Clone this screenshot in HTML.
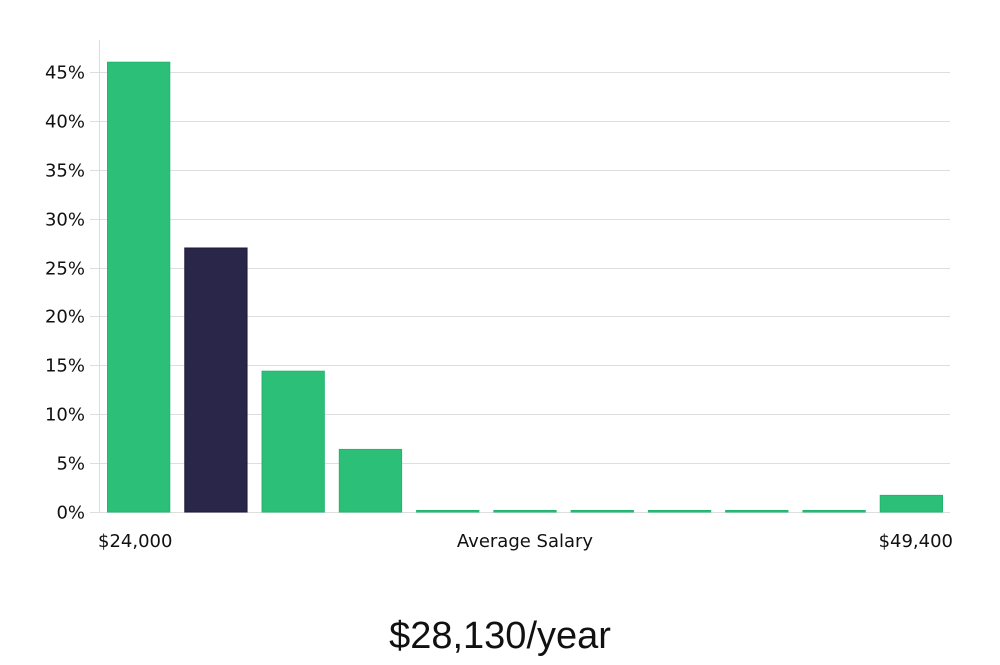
<!DOCTYPE html>
<html><head><meta charset="utf-8"><style>
body{margin:0;background:#fff;}
svg text{font-family:"DejaVu Sans","Liberation Sans",sans-serif;}
</style></head><body>
<svg width="1000" height="660" xmlns="http://www.w3.org/2000/svg">
<g id="grid"></g>
<g id="bars"></g>
<line x1="99.5" y1="40" x2="99.5" y2="512" stroke="#dcdcdc"/>
<text x="98" y="547" font-size="18" fill="#111">$24,000</text>
<text x="525" y="547" font-size="18" fill="#111" text-anchor="middle">Average Salary</text>
<text x="953" y="547" font-size="18" fill="#111" text-anchor="end">$49,400</text>
<text x="500" y="648" font-size="38" fill="#111" text-anchor="middle" font-family="Liberation Sans, sans-serif" style="font-family:'Liberation Sans',sans-serif;font-weight:300">$28,130/year</text>
</svg>
<script>
const values = [46, 27, 14.4, 6.4, 0, 0, 0, 0, 0, 0, 1.7];
const highlight = [false, true, false, false, false, false, false, false, false, false, false];
const yTicks = [0, 5, 10, 15, 20, 25, 30, 35, 40, 45];
const tickLabels = ["0%","5%","10%","15%","20%","25%","30%","35%","40%","45%"];
const NS="http://www.w3.org/2000/svg";
const y0=512, pxPer=(512-72)/45;
const yS=v=>y0-v*pxPer;
const x0=100, x1=950, bw=(x1-x0)/values.length;
const xS=i=>x0+i*bw;
const grid=document.getElementById('grid');
yTicks.forEach((t,i)=>{
  const y=Math.round(yS(t))+0.5;
  const l=document.createElementNS(NS,'line');
  l.setAttribute('x1',90);l.setAttribute('x2',950);l.setAttribute('y1',y);l.setAttribute('y2',y);
  l.setAttribute('stroke','#dedede');
  
  
  grid.appendChild(l);
  const tx=document.createElementNS(NS,'text');
  tx.setAttribute('x',85);tx.setAttribute('y',y+6);tx.setAttribute('text-anchor','end');
  tx.setAttribute('font-size','18');tx.setAttribute('fill','#111');
  tx.textContent=tickLabels[i];
  
  
  grid.appendChild(tx);
});
const bars=document.getElementById('bars');
values.forEach((v,i)=>{
  const r=document.createElementNS(NS,'rect');
  const top=yS(v);
  const h=Math.max(y0-top,1.5);
  r.setAttribute('x',xS(i)+7.5);r.setAttribute('width',bw-15);
  r.setAttribute('y',y0-h);r.setAttribute('height',h);
  r.setAttribute('fill',highlight[i]?'#29264a':'#2bbf78');
  r.setAttribute('stroke',highlight[i]?'#1c1a3a':'#22b56f');
  r.setAttribute('stroke-width','1');
  
  
  bars.appendChild(r);
});
</script>
</body></html>
